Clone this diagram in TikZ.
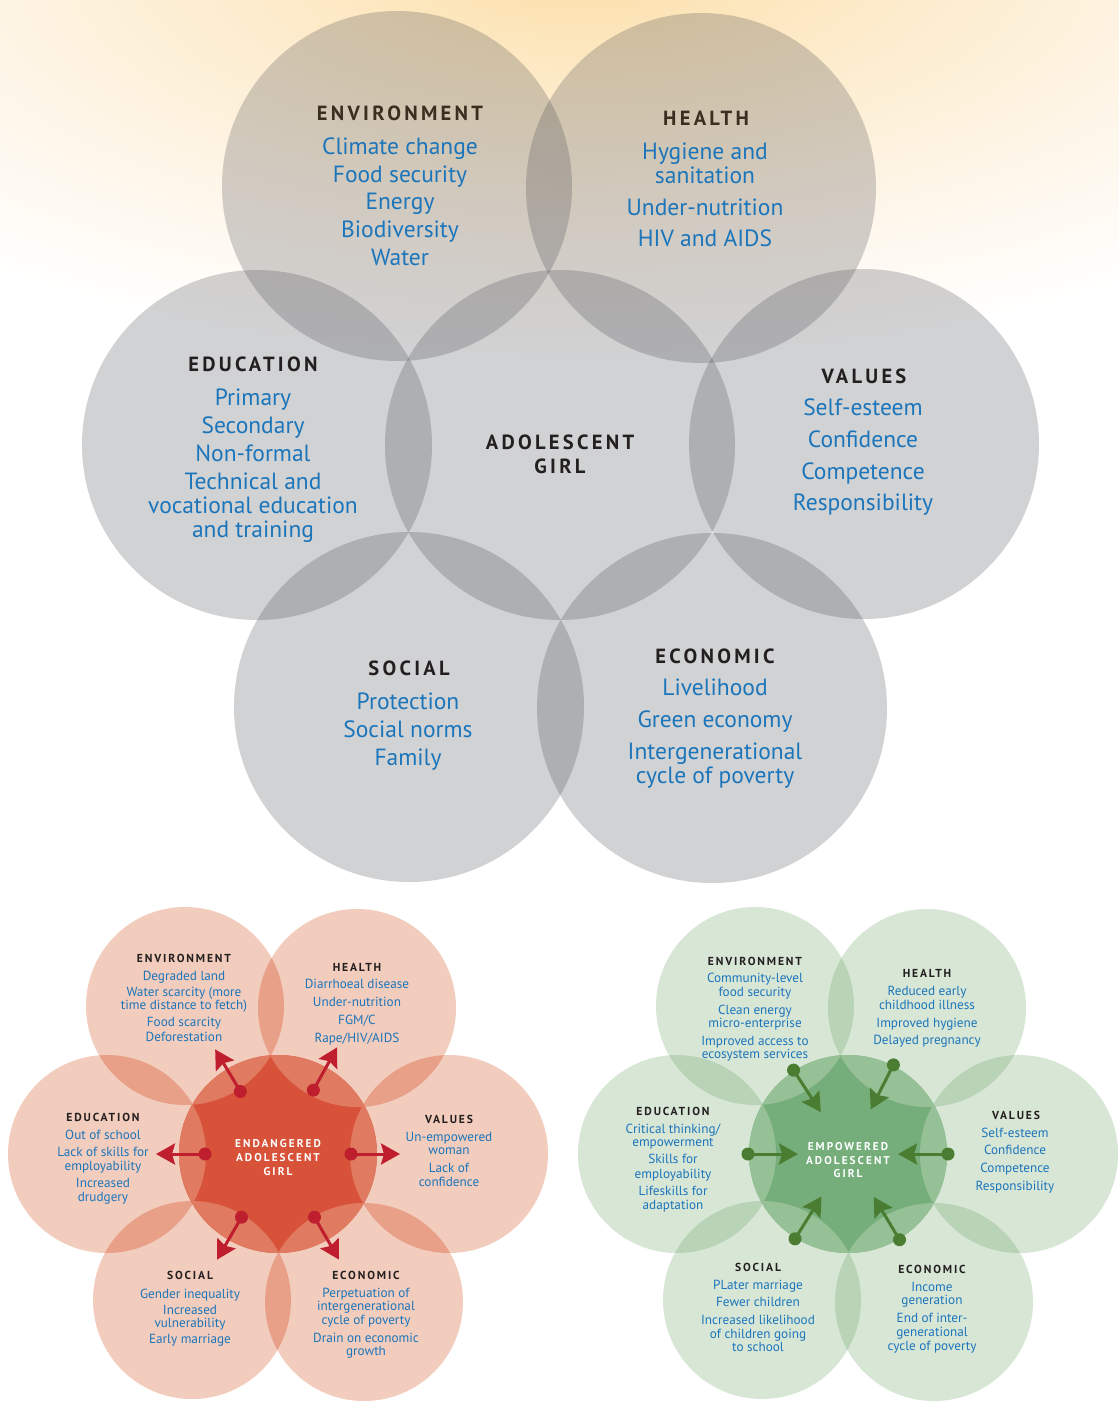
\documentclass[tikz,border=0pt]{standalone}
\usepackage{fontspec}
\setmainfont{PT Sans}
\newfontfamily\hdrfont[LetterSpace=16]{PT Sans}
\newfontfamily\ctrfont[LetterSpace=18]{PT Sans}
\usetikzlibrary{arrows.meta,calc}

\definecolor{glowA}{RGB}{252,227,180}
\definecolor{glowB}{RGB}{253,236,205}
\definecolor{glowC}{RGB}{254,246,233}
\pgfdeclareradialshading{glowshade}{\pgfpoint{0bp}{0bp}}{color(0bp)=(glowA); color(3bp)=(glowA); color(9bp)=(glowB); color(17bp)=(glowC); color(25bp)=(white); color(50bp)=(white)}

\definecolor{itemblue}{RGB}{27,117,187}
\definecolor{hdrdark}{RGB}{35,31,32}
\definecolor{hdrbrown}{RGB}{58,46,32}
\definecolor{topgray}{RGB}{50,52,60}
\definecolor{rOut}{HTML}{F2CCBC}
\definecolor{rLens}{HTML}{E9A089}
\definecolor{rIn}{HTML}{E07A60}
\definecolor{rStar}{HTML}{D85239}
\definecolor{rArrow}{HTML}{BE1E2D}
\definecolor{gOut}{HTML}{D8E6D6}
\definecolor{gLens}{HTML}{B8D3B6}
\definecolor{gIn}{HTML}{96C096}
\definecolor{gStar}{HTML}{75AE7A}
\definecolor{gArrow}{HTML}{4A7D32}

\newcommand\flowerdraw[6]{%
  \foreach \k in {1,...,6} \fill[#2] (#1\k) circle[radius=#6];
  \foreach \a/\b in {1/2,2/3,3/4,4/5,5/6,6/1} {
    \begin{scope}
      \clip (#1\a) circle[radius=#6];
      \fill[#3] (#1\b) circle[radius=#6];
    \end{scope}
  }
  \fill[#5] (#10) circle[radius=#6];
  \begin{scope}
    \clip (#10) circle[radius=#6];
    \foreach \k in {1,...,6} \fill[#4] (#1\k) circle[radius=#6];
  \end{scope}
}

\begin{document}
\begin{tikzpicture}[x=1pt,y=-1pt,
  bigitem/.style={font=\fontsize{23.5}{25}\selectfont, text=itemblue, anchor=base, yshift=-8pt, inner sep=0pt},
  bighdr/.style={font=\hdrfont\bfseries\fontsize{20.5}{22}\selectfont, text=hdrdark, anchor=base, yshift=-7pt, inner sep=0pt},
  smitem/.style={font=\fontsize{13.2}{14}\selectfont, text=itemblue, anchor=base, yshift=-4.5pt, inner sep=0pt},
  smhdr/.style={font=\hdrfont\bfseries\fontsize{11.6}{12}\selectfont, text=hdrdark, anchor=base, yshift=-4pt, inner sep=0pt},
  ctrtxt/.style={font=\ctrfont\bfseries\fontsize{11.3}{12}\selectfont, text=white, anchor=base, yshift=-4pt, inner sep=0pt},
  rdot/.style={circle, fill=rArrow, inner sep=0pt, minimum size=13pt},
  gdot/.style={circle, fill=gArrow, inner sep=0pt, minimum size=13pt},
  rarrow/.style={draw=rArrow, line width=3pt, -{Stealth[length=19pt,width=21pt,inset=3pt]}},
  garrow/.style={draw=gArrow, line width=3pt, -{Stealth[length=19pt,width=21pt,inset=3pt]}},
  topfill/.style={fill=topgray, fill opacity=0.22}
]
\useasboundingbox (0,0) rectangle (1119,1401);
\fill[white] (0,0) rectangle (1119,1401);
% warm glow
\begin{scope}
  \clip (0,0) rectangle (1119,1401);
  \shade[shading=glowshade] (580,-40) ellipse [x radius=950pt, y radius=400pt];
\end{scope}

% ---------- top diagram ----------
\coordinate (T0) at (560,445);
\coordinate (T1) at (397,186);
\coordinate (T2) at (701,188);
\coordinate (T3) at (864,444);
\coordinate (T4) at (712,708);
\coordinate (T5) at (409,707);
\coordinate (T6) at (257,445);
\foreach \k in {0,...,6} \fill[topfill] (T\k) circle[radius=175pt];

\node[bighdr, text=hdrbrown] (hEnv) at (400,113) {ENVIRONMENT};
\node[bighdr, text=hdrbrown] (hHea) at (706,118) {HEALTH};
\node[bighdr] (hEdu) at (253,364) {EDUCATION};
\node[bighdr] (hVal) at (864,376) {VALUES};
\node[bighdr] (hSoc) at (409,668) {SOCIAL};
\node[bighdr] (hEco) at (715,656) {ECONOMIC};
\node[bighdr] (hC1) at (560,442) {ADOLESCENT};
\node[bighdr] (hC2) at (560,466) {GIRL};

\foreach \x/\y/\t [count=\i] in {
  400/146/Climate change, 400/174/Food security, 400/201/Energy, 400/229/Biodiversity, 400/257/Water,
  705/151/Hygiene and, 705/175/sanitation, 705/207/Under-nutrition, 705/238/HIV and AIDS,
  253/397/Primary, 253/425/Secondary, 253/453/Non-formal, 253/481/Technical and, 253/505/vocational education, 253/529/and training,
  863/407/Self-esteem, 863/439/Confidence, 863/471/Competence, 863/502/Responsibility,
  408/701/Protection, 408/729/Social norms, 408/757/Family,
  715/687/Livelihood, 715/719/Green economy, 715/751/Intergenerational, 715/775/cycle of poverty}
  \node[bigitem] (tb\i) at (\x,\y) {\t};

% ---------- red diagram ----------
\coordinate (R0) at (278,1154);
\coordinate (R1) at (185,1006);
\coordinate (R2) at (357,1008);
\coordinate (R3) at (449,1154);
\coordinate (R4) at (364,1302);
\coordinate (R5) at (192,1300);
\coordinate (R6) at (107,1154);
\flowerdraw{R}{rOut}{rLens}{rIn}{rStar}{99pt}

\node[smhdr] (rhEnv) at (184,958) {ENVIRONMENT};
\node[smhdr] (rhHea) at (357,967) {HEALTH};
\node[smhdr] (rhEdu) at (103,1117) {EDUCATION};
\node[smhdr] (rhVal) at (449,1119) {VALUES};
\node[smhdr] (rhSoc) at (190,1275) {SOCIAL};
\node[smhdr] (rhEco) at (366,1275) {ECONOMIC};
\node[ctrtxt] (rc1) at (278,1143) {ENDANGERED};
\node[ctrtxt] (rc2) at (278,1157) {ADOLESCENT};
\node[ctrtxt] (rc3) at (278,1171) {GIRL};

\foreach \x/\y/\t [count=\i] in {
  184/976/Degraded land, 184/992/Water scarcity (more, 184/1005/time distance to fetch), 184/1022/Food scarcity, 184/1037/Deforestation,
  357/984/Diarrhoeal disease, 357/1002/Under-nutrition, 357/1020/{FGM/C}, 357/1038/{Rape/HIV/AIDS},
  103/1135/Out of school, 103/1152/Lack of skills for, 103/1166/employability, 103/1183/Increased, 103/1197/drudgery,
  449/1137/Un-empowered, 449/1150/woman, 449/1168/Lack of, 449/1182/confidence,
  190/1294/Gender inequality, 190/1310/Increased, 190/1323/vulnerability, 190/1339/Early marriage,
  366/1293/Perpetuation of, 366/1306/intergenerational, 366/1320/cycle of poverty, 366/1338/Drain on economic, 366/1351/growth}
  \node[smitem] (tr\i) at (\x,\y) {\t};

\foreach \a [count=\i] in {121,61,180,0,240,300} {
  \coordinate (rt\i) at ($(R0)+(-\a:122)$);
  \node[rdot] (rd\i) at ($(R0)+(-\a:73)$) {};
  \draw[rarrow] (rd\i.center) -- (rt\i);
}

% ---------- green diagram ----------
\coordinate (G0) at (848,1154);
\coordinate (G1) at (755,1006);
\coordinate (G2) at (927,1008);
\coordinate (G3) at (1019,1154);
\coordinate (G4) at (934,1302);
\coordinate (G5) at (762,1300);
\coordinate (G6) at (677,1154);
\flowerdraw{G}{gOut}{gLens}{gIn}{gStar}{99pt}

\node[smhdr] (ghEnv) at (755,961) {ENVIRONMENT};
\node[smhdr] (ghHea) at (927,973) {HEALTH};
\node[smhdr] (ghEdu) at (673,1111) {EDUCATION};
\node[smhdr] (ghVal) at (1016,1115) {VALUES};
\node[smhdr] (ghSoc) at (758,1267) {SOCIAL};
\node[smhdr] (ghEco) at (932,1269) {ECONOMIC};
\node[ctrtxt] (gc1) at (848,1146) {EMPOWERED};
\node[ctrtxt] (gc2) at (848,1160) {ADOLESCENT};
\node[ctrtxt] (gc3) at (848,1173) {GIRL};

\foreach \x/\y/\t [count=\i] in {
  755/978/Community-level, 755/992/food security, 755/1010/Clean energy, 755/1023/micro-enterprise, 755/1041/Improved access to, 755/1054/ecosystem services,
  927/991/Reduced early, 927/1005/childhood illness, 927/1023/Improved hygiene, 927/1040/Delayed pregnancy,
  673/1129/{Critical thinking/}, 673/1142/empowerment, 673/1159/Skills for, 673/1174/employability, 673/1191/Lifeskills for, 673/1205/adaptation,
  1015/1133/Self-esteem, 1015/1150/Confidence, 1015/1168/Competence, 1015/1186/Responsibility,
  758/1285/PLater marriage, 758/1302/Fewer children, 758/1320/Increased likelihood, 758/1334/of children going, 758/1347/to school,
  932/1287/Income, 932/1300/generation, 932/1318/End of inter-, 932/1332/generational, 932/1346/cycle of poverty}
  \node[smitem] (tg\i) at (\x,\y) {\t};

\foreach \a [count=\i] in {123,63,180,0,238,301} {
  \coordinate (gt\i) at ($(G0)+(-\a:50)$);
  \node[gdot] (gd\i) at ($(G0)+(-\a:100)$) {};
  \draw[garrow] (gd\i.center) -- (gt\i);
}
\end{tikzpicture}
\end{document}
